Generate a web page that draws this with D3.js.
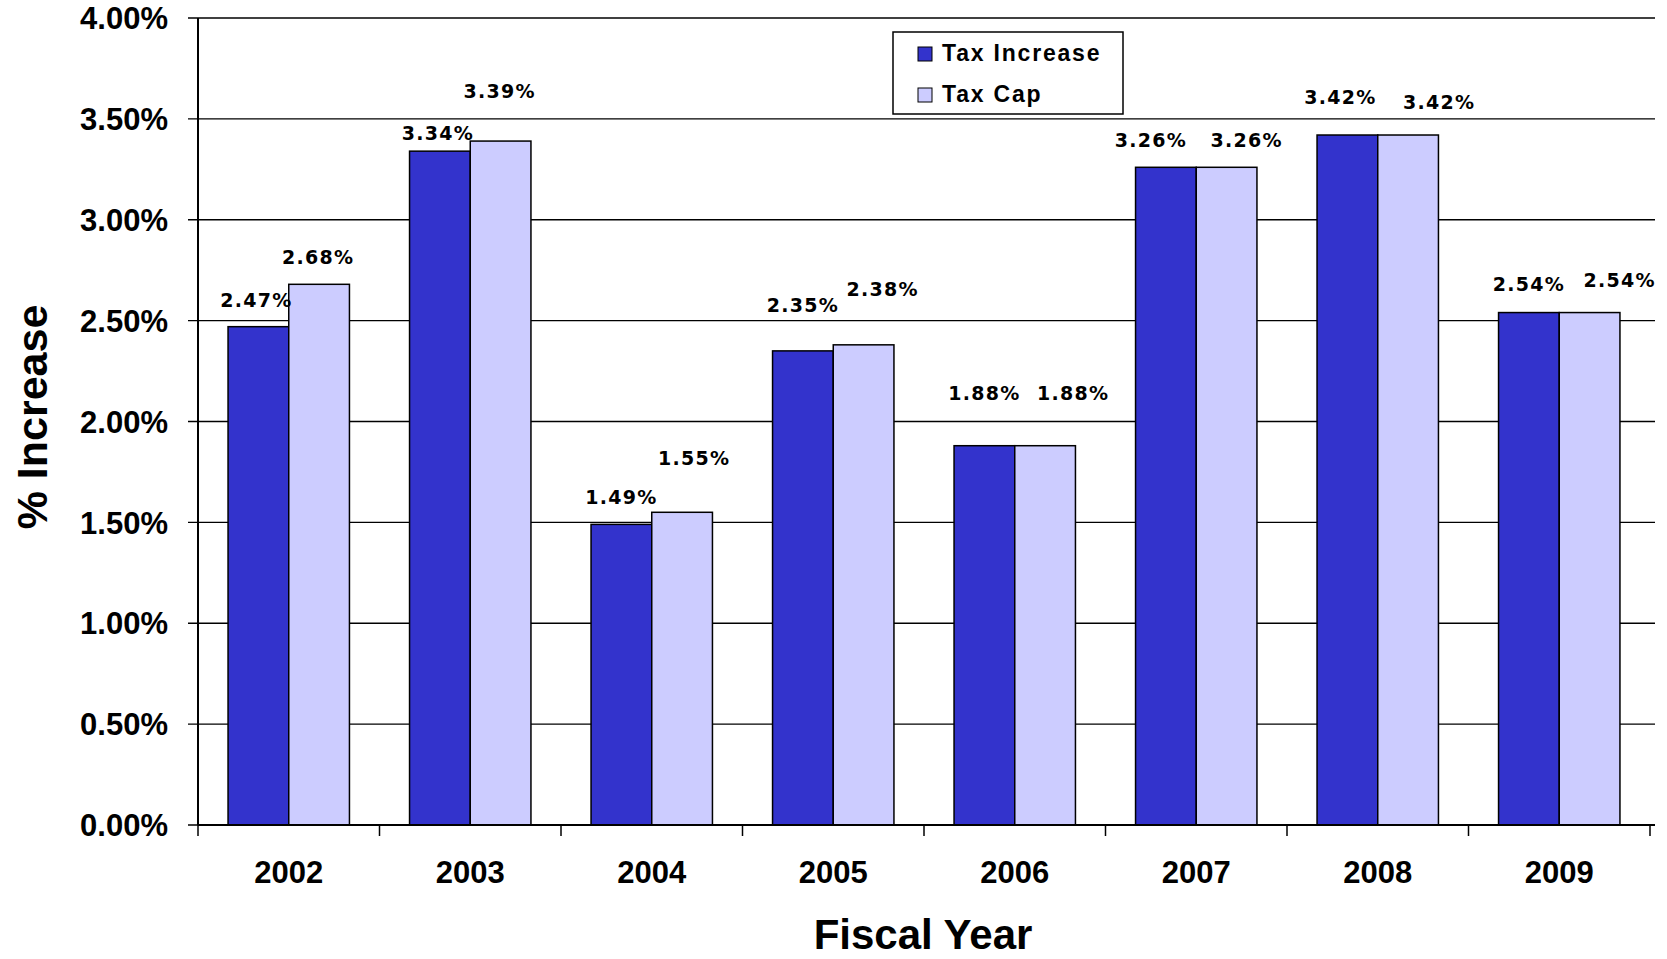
<!DOCTYPE html>
<html>
<head>
<meta charset="utf-8">
<script src="https://cdn.jsdelivr.net/npm/d3@7"></script>
<style>
  html, body { margin: 0; padding: 0; background: #fff; }
  svg text { font-family: "Liberation Sans", Arial, sans-serif; font-weight: bold; fill: #000; }
  .val { font-family: "DejaVu Sans", Verdana, sans-serif; font-size: 19px; letter-spacing: 1.3px; }
</style>
</head>
<body>
<div id="chart"></div>
<script>
// data
const YEARS = ["2002", "2003", "2004", "2005", "2006", "2007", "2008", "2009"];
const TAX_INCREASE = [2.47, 3.34, 1.49, 2.35, 1.88, 3.26, 3.42, 2.54];
const TAX_CAP = [2.68, 3.39, 1.55, 2.38, 1.88, 3.26, 3.42, 2.54];
const Y_TICKS = [0, 0.5, 1, 1.5, 2, 2.5, 3, 3.5, 4];
const SERIES = ["Tax Increase", "Tax Cap"];
const COLORS = ["#3333CC", "#CCCCFF"];

// label nudges (px) — the original places its value labels by hand
const GAP_INC = [27, 18, 27, 46, 53, 27, 38, 28];
const GAP_CAP = [27, 50, 54, 56, 53, 27, 33, 32];
const DX_INC = [-2, -2, 0, 0, 0, -15, -7, 0];
const DX_CAP = [-1, -1, 12, 19, 28, 20, 31, 30];

const W = 1667, H = 959;
const m = { top: 18, right: 17, bottom: 134, left: 198 };
const innerW = W - m.left - m.right, innerH = H - m.top - m.bottom;

const svg = d3.select("#chart").append("svg").attr("width", W).attr("height", H);
const g = svg.append("g").attr("transform", `translate(${m.left},${m.top})`);

const x0 = d3.scaleBand().domain(YEARS).range([0, innerW]).paddingInner(0).paddingOuter(0);
const x1 = d3.scaleBand().domain(SERIES).range([0, x0.bandwidth()]).paddingInner(0).paddingOuter(0.495);
const y = d3.scaleLinear().domain([0, 4]).range([innerH, 0]);

// gridlines
g.append("g").selectAll("line")
  .data(Y_TICKS)
  .join("line")
  .attr("x1", -10).attr("x2", innerW + 5)
  .attr("y1", d => y(d)).attr("y2", d => y(d))
  .attr("stroke", "#000").attr("stroke-width", 1.4);

// y tick labels
g.append("g").selectAll("text")
  .data(Y_TICKS)
  .join("text")
  .attr("x", -30).attr("y", d => y(d))
  .attr("dy", "0.36em")
  .attr("text-anchor", "end")
  .style("font-size", "31px")
  .text(d => d.toFixed(2) + "%");

// bars
const rows = YEARS.map((yr, i) => ({ yr, i, vals: [TAX_INCREASE[i], TAX_CAP[i]] }));
const grp = g.append("g").selectAll("g")
  .data(rows)
  .join("g")
  .attr("transform", d => `translate(${x0(d.yr)},0)`);

grp.selectAll("rect")
  .data(d => d.vals.map((v, k) => ({ v, k, s: SERIES[k] })))
  .join("rect")
  .attr("x", d => x1(d.s))
  .attr("y", d => y(d.v))
  .attr("width", x1.bandwidth())
  .attr("height", d => innerH - y(d.v))
  .attr("fill", d => COLORS[d.k])
  .attr("stroke", "#000").attr("stroke-width", 1.5);

// value labels
grp.selectAll("text")
  .data(d => d.vals.map((v, k) => ({ v, k, s: SERIES[k], i: d.i })))
  .join("text")
  .attr("class", "val")
  .attr("text-anchor", "middle")
  .attr("x", d => x1(d.s) + x1.bandwidth() / 2 + (d.k === 0 ? DX_INC[d.i] : DX_CAP[d.i]))
  .attr("y", d => y(d.v) - (d.k === 0 ? GAP_INC[d.i] : GAP_CAP[d.i]))
  .attr("dy", "0.36em")
  .text(d => d.v.toFixed(2) + "%");

// axes lines
g.append("line")
  .attr("x1", 0).attr("x2", 0).attr("y1", 0).attr("y2", innerH)
  .attr("stroke", "#000").attr("stroke-width", 2);
g.append("line")
  .attr("x1", 0).attr("x2", innerW + 5).attr("y1", innerH).attr("y2", innerH)
  .attr("stroke", "#000").attr("stroke-width", 2);

// category ticks
g.append("g").selectAll("line")
  .data(YEARS.map(d => x0(d)).concat([innerW]))
  .join("line")
  .attr("x1", d => d).attr("x2", d => d)
  .attr("y1", innerH).attr("y2", innerH + 11)
  .attr("stroke", "#000").attr("stroke-width", 1.5);

// x labels
g.append("g").selectAll("text")
  .data(YEARS)
  .join("text")
  .attr("x", d => x0(d) + x0.bandwidth() / 2)
  .attr("y", innerH + 58)
  .attr("text-anchor", "middle")
  .style("font-size", "31px")
  .text(d => d);

// axis titles
svg.append("text")
  .attr("transform", `translate(47,417) rotate(-90)`)
  .attr("text-anchor", "middle")
  .style("font-size", "43px")
  .text("% Increase");

svg.append("text")
  .attr("x", 923).attr("y", 949)
  .attr("text-anchor", "middle")
  .style("font-size", "42px")
  .text("Fiscal Year");

// legend
const lg = svg.append("g").attr("transform", "translate(893,32)");
lg.append("rect")
  .attr("width", 230).attr("height", 82)
  .attr("fill", "#fff").attr("stroke", "#000").attr("stroke-width", 1.5);
SERIES.forEach((s, k) => {
  lg.append("rect")
    .attr("x", 25).attr("y", 15 + k * 41)
    .attr("width", 14).attr("height", 14)
    .attr("fill", COLORS[k]).attr("stroke", "#000").attr("stroke-width", 1);
  lg.append("text")
    .attr("x", 49).attr("y", 29 + k * 41)
    .style("font-size", "23px")
    .style("letter-spacing", "1.8px")
    .text(s);
});
</script>
</body>
</html>
